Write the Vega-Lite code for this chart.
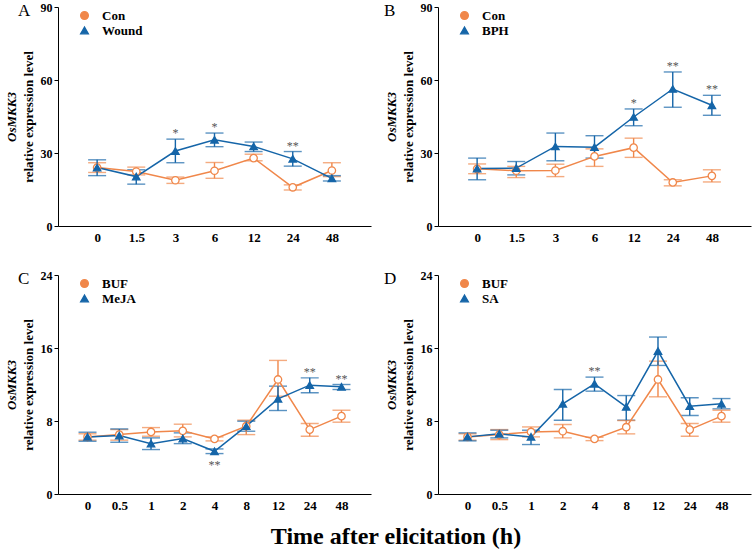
{
  "$schema": "https://vega.github.io/schema/vega-lite/v6.json",
  "padding": {"left": 5, "top": 1, "right": 2, "bottom": 5},
  "title": {"text": "Time after elicitation (h)", "orient": "bottom", "anchor": "middle", "fontSize": 24, "font": "Liberation Serif, Times New Roman, Times, serif", "fontWeight": "bold", "color": "black", "offset": 13, "dx": 18},
  "datasets": {
    "A": [
      {"t": "0", "g": "Con", "m": 24.0, "lo": 22.0, "hi": 26.0, "sig": ""},
      {"t": "1.5", "g": "Con", "m": 22.4, "lo": 21.0, "hi": 24.2, "sig": ""},
      {"t": "3", "g": "Con", "m": 18.8, "lo": 17.5, "hi": 20.1, "sig": ""},
      {"t": "6", "g": "Con", "m": 22.7, "lo": 19.6, "hi": 26.1, "sig": ""},
      {"t": "12", "g": "Con", "m": 27.9, "lo": 26.8, "hi": 29.5, "sig": ""},
      {"t": "24", "g": "Con", "m": 15.9, "lo": 14.8, "hi": 16.9, "sig": ""},
      {"t": "48", "g": "Con", "m": 22.8, "lo": 20.3, "hi": 26.0, "sig": ""},
      {"t": "0", "g": "Wound", "m": 24.0, "lo": 20.7, "hi": 27.2, "sig": ""},
      {"t": "1.5", "g": "Wound", "m": 20.3, "lo": 17.2, "hi": 23.1, "sig": ""},
      {"t": "3", "g": "Wound", "m": 30.8, "lo": 26.0, "hi": 35.7, "sig": "*"},
      {"t": "6", "g": "Wound", "m": 35.4, "lo": 32.6, "hi": 38.2, "sig": "*"},
      {"t": "12", "g": "Wound", "m": 32.7, "lo": 30.6, "hi": 34.5, "sig": ""},
      {"t": "24", "g": "Wound", "m": 27.6, "lo": 24.6, "hi": 30.6, "sig": "**"},
      {"t": "48", "g": "Wound", "m": 19.6, "lo": 18.5, "hi": 20.7, "sig": ""}
    ],
    "B": [
      {"t": "0", "g": "Con", "m": 23.5, "lo": 21.5, "hi": 25.5, "sig": ""},
      {"t": "1.5", "g": "Con", "m": 22.7, "lo": 19.9, "hi": 24.5, "sig": ""},
      {"t": "3", "g": "Con", "m": 22.8, "lo": 20.3, "hi": 25.4, "sig": ""},
      {"t": "6", "g": "Con", "m": 28.6, "lo": 24.5, "hi": 31.7, "sig": ""},
      {"t": "12", "g": "Con", "m": 32.2, "lo": 28.2, "hi": 36.1, "sig": ""},
      {"t": "24", "g": "Con", "m": 17.9, "lo": 16.5, "hi": 19.0, "sig": ""},
      {"t": "48", "g": "Con", "m": 20.6, "lo": 18.1, "hi": 23.1, "sig": ""},
      {"t": "0", "g": "BPH", "m": 23.6, "lo": 19.0, "hi": 27.9, "sig": ""},
      {"t": "1.5", "g": "BPH", "m": 23.8, "lo": 21.0, "hi": 26.5, "sig": ""},
      {"t": "3", "g": "BPH", "m": 32.7, "lo": 26.8, "hi": 38.2, "sig": ""},
      {"t": "6", "g": "BPH", "m": 32.4, "lo": 27.9, "hi": 37.1, "sig": ""},
      {"t": "12", "g": "BPH", "m": 44.8, "lo": 41.2, "hi": 48.1, "sig": "*"},
      {"t": "24", "g": "BPH", "m": 56.3, "lo": 48.8, "hi": 63.3, "sig": "**"},
      {"t": "48", "g": "BPH", "m": 49.6, "lo": 45.5, "hi": 53.7, "sig": "**"}
    ],
    "C": [
      {"t": "0", "g": "BUF", "m": 6.26, "lo": 5.9, "hi": 6.6, "sig": "", "sigb": ""},
      {"t": "0.5", "g": "BUF", "m": 6.51, "lo": 5.9, "hi": 7.06, "sig": "", "sigb": ""},
      {"t": "1", "g": "BUF", "m": 6.8, "lo": 6.33, "hi": 7.28, "sig": "", "sigb": ""},
      {"t": "2", "g": "BUF", "m": 6.92, "lo": 6.26, "hi": 7.65, "sig": "", "sigb": ""},
      {"t": "4", "g": "BUF", "m": 6.04, "lo": 5.82, "hi": 6.26, "sig": "", "sigb": ""},
      {"t": "8", "g": "BUF", "m": 7.43, "lo": 6.51, "hi": 8.09, "sig": "", "sigb": ""},
      {"t": "12", "g": "BUF", "m": 12.55, "lo": 10.72, "hi": 14.64, "sig": "", "sigb": ""},
      {"t": "24", "g": "BUF", "m": 7.06, "lo": 6.33, "hi": 7.72, "sig": "", "sigb": ""},
      {"t": "48", "g": "BUF", "m": 8.53, "lo": 7.87, "hi": 9.18, "sig": "", "sigb": ""},
      {"t": "0", "g": "MeJA", "m": 6.26, "lo": 5.78, "hi": 6.77, "sig": "", "sigb": ""},
      {"t": "0.5", "g": "MeJA", "m": 6.4, "lo": 5.67, "hi": 7.13, "sig": "", "sigb": ""},
      {"t": "1", "g": "MeJA", "m": 5.52, "lo": 4.87, "hi": 6.15, "sig": "", "sigb": ""},
      {"t": "2", "g": "MeJA", "m": 6.07, "lo": 5.52, "hi": 6.7, "sig": "", "sigb": ""},
      {"t": "4", "g": "MeJA", "m": 4.68, "lo": 4.43, "hi": 4.94, "sig": "", "sigb": "**"},
      {"t": "8", "g": "MeJA", "m": 7.43, "lo": 6.88, "hi": 7.98, "sig": "", "sigb": ""},
      {"t": "12", "g": "MeJA", "m": 10.43, "lo": 9.15, "hi": 11.82, "sig": "", "sigb": ""},
      {"t": "24", "g": "MeJA", "m": 11.93, "lo": 11.09, "hi": 12.73, "sig": "**", "sigb": ""},
      {"t": "48", "g": "MeJA", "m": 11.75, "lo": 11.45, "hi": 12.0, "sig": "**", "sigb": ""}
    ],
    "D": [
      {"t": "0", "g": "BUF", "m": 6.26, "lo": 5.9, "hi": 6.6, "sig": ""},
      {"t": "0.5", "g": "BUF", "m": 6.51, "lo": 5.96, "hi": 7.06, "sig": ""},
      {"t": "1", "g": "BUF", "m": 6.8, "lo": 6.26, "hi": 7.35, "sig": ""},
      {"t": "2", "g": "BUF", "m": 6.88, "lo": 6.15, "hi": 7.61, "sig": ""},
      {"t": "4", "g": "BUF", "m": 6.04, "lo": 5.85, "hi": 6.22, "sig": ""},
      {"t": "8", "g": "BUF", "m": 7.32, "lo": 6.59, "hi": 8.05, "sig": ""},
      {"t": "12", "g": "BUF", "m": 12.55, "lo": 10.65, "hi": 14.56, "sig": ""},
      {"t": "24", "g": "BUF", "m": 7.06, "lo": 6.33, "hi": 7.72, "sig": ""},
      {"t": "48", "g": "BUF", "m": 8.53, "lo": 7.87, "hi": 9.18, "sig": ""},
      {"t": "0", "g": "SA", "m": 6.26, "lo": 5.82, "hi": 6.7, "sig": ""},
      {"t": "0.5", "g": "SA", "m": 6.59, "lo": 6.15, "hi": 6.99, "sig": ""},
      {"t": "1", "g": "SA", "m": 6.26, "lo": 5.42, "hi": 6.99, "sig": ""},
      {"t": "2", "g": "SA", "m": 9.88, "lo": 8.09, "hi": 11.45, "sig": ""},
      {"t": "4", "g": "SA", "m": 12.07, "lo": 11.27, "hi": 12.81, "sig": "**"},
      {"t": "8", "g": "SA", "m": 9.55, "lo": 8.09, "hi": 10.79, "sig": ""},
      {"t": "12", "g": "SA", "m": 15.66, "lo": 14.09, "hi": 17.2, "sig": ""},
      {"t": "24", "g": "SA", "m": 9.62, "lo": 8.6, "hi": 10.54, "sig": ""},
      {"t": "48", "g": "SA", "m": 9.88, "lo": 9.33, "hi": 10.46, "sig": ""}
    ]
  },
  "columns": 2,
  "spacing": {"row": 25, "column": 13},
  "resolve": {"scale": {"x": "independent", "y": "independent", "color": "independent", "fill": "independent", "shape": "independent"}, "legend": {"color": "independent", "fill": "independent", "shape": "independent"}},
  "concat": [
    {
      "width": 313, "height": 219,
      "title": {"text": "A", "anchor": "start", "frame": "group", "align": "left", "offset": -19, "dx": -40, "fontSize": 17, "font": "Liberation Serif, Times New Roman, Times, serif", "fontWeight": "normal", "color": "black"},
      "data": {"name": "A"},
      "resolve": {"scale": {"y": "independent"}},
      "layer": [
        {
          "layer": [
            {"mark": {"type": "errorbar", "ticks": true, "thickness": 1.4},
             "encoding": {
               "x": {"field": "t", "type": "ordinal", "sort": ["0", "1.5", "3", "6", "12", "24", "48"], "scale": {"type": "point", "padding": 1}, "title": null},
               "y": {"field": "lo", "type": "quantitative", "scale": {"domain": [0, 90], "nice": false}, "title": "relative expression level", "axis": {"values": [0, 30, 60, 90]}},
               "y2": {"field": "hi"},
               "color": {"field": "g", "type": "nominal", "scale": {"domain": ["Con", "Wound"], "range": ["#F0874A", "#1565A8"]}, "legend": {"title": null, "orient": "none", "legendX": 20, "legendY": 2}}}},
            {"mark": {"type": "line", "strokeWidth": 1.5},
             "encoding": {
               "x": {"field": "t", "type": "ordinal", "sort": ["0", "1.5", "3", "6", "12", "24", "48"], "title": null},
               "y": {"field": "m", "type": "quantitative", "title": "relative expression level", "axis": {"values": [0, 30, 60, 90]}},
               "color": {"field": "g", "type": "nominal", "scale": {"domain": ["Con", "Wound"], "range": ["#F0874A", "#1565A8"]}, "legend": {"title": null, "orient": "none", "legendX": 20, "legendY": 2}}}},
            {"mark": {"type": "point", "filled": false, "size": 55, "opacity": 1, "strokeWidth": 1.3},
             "encoding": {
               "x": {"field": "t", "type": "ordinal", "sort": ["0", "1.5", "3", "6", "12", "24", "48"], "title": null},
               "y": {"field": "m", "type": "quantitative", "title": "relative expression level", "axis": {"values": [0, 30, 60, 90]}},
               "color": {"field": "g", "type": "nominal", "scale": {"domain": ["Con", "Wound"], "range": ["#F0874A", "#1565A8"]}, "legend": {"title": null, "orient": "none", "legendX": 20, "legendY": 2}},
               "shape": {"field": "g", "type": "nominal", "scale": {"domain": ["Con", "Wound"], "range": ["circle", "triangle-up"]}, "legend": {"title": null, "orient": "none", "legendX": 20, "legendY": 2}},
               "fill": {"field": "g", "type": "nominal", "scale": {"domain": ["Con", "Wound"], "range": ["white", "#1565A8"]}, "legend": {"title": null, "orient": "none", "legendX": 20, "legendY": 2}}}}
          ]
        },
        {"mark": {"type": "text", "dy": -6, "color": "#555555", "fontSize": 12, "font": "Liberation Serif, Times New Roman, Times, serif", "baseline": "middle"},
         "encoding": {
           "x": {"field": "t", "type": "ordinal", "sort": ["0", "1.5", "3", "6", "12", "24", "48"], "title": null},
           "y": {"field": "hi", "type": "quantitative", "scale": {"domain": [0, 90], "nice": false}, "title": "OsMKK3", "axis": {"orient": "left", "labels": false, "ticks": false, "domain": false, "titleFontStyle": "italic", "titlePadding": 40}},
           "text": {"field": "sig"}}}
      ]
    },
    {
      "width": 313, "height": 219,
      "title": {"text": "B", "anchor": "start", "frame": "group", "align": "left", "offset": -19, "dx": -54, "fontSize": 17, "font": "Liberation Serif, Times New Roman, Times, serif", "fontWeight": "normal", "color": "black"},
      "data": {"name": "B"},
      "resolve": {"scale": {"y": "independent"}},
      "layer": [
        {
          "layer": [
            {"mark": {"type": "errorbar", "ticks": true, "thickness": 1.4},
             "encoding": {
               "x": {"field": "t", "type": "ordinal", "sort": ["0", "1.5", "3", "6", "12", "24", "48"], "scale": {"type": "point", "padding": 1}, "title": null},
               "y": {"field": "lo", "type": "quantitative", "scale": {"domain": [0, 90], "nice": false}, "title": "relative expression level", "axis": {"values": [0, 30, 60, 90]}},
               "y2": {"field": "hi"},
               "color": {"field": "g", "type": "nominal", "scale": {"domain": ["Con", "BPH"], "range": ["#F0874A", "#1565A8"]}, "legend": {"title": null, "orient": "none", "legendX": 20, "legendY": 2}}}},
            {"mark": {"type": "line", "strokeWidth": 1.5},
             "encoding": {
               "x": {"field": "t", "type": "ordinal", "sort": ["0", "1.5", "3", "6", "12", "24", "48"], "title": null},
               "y": {"field": "m", "type": "quantitative", "title": "relative expression level", "axis": {"values": [0, 30, 60, 90]}},
               "color": {"field": "g", "type": "nominal", "scale": {"domain": ["Con", "BPH"], "range": ["#F0874A", "#1565A8"]}, "legend": {"title": null, "orient": "none", "legendX": 20, "legendY": 2}}}},
            {"mark": {"type": "point", "filled": false, "size": 55, "opacity": 1, "strokeWidth": 1.3},
             "encoding": {
               "x": {"field": "t", "type": "ordinal", "sort": ["0", "1.5", "3", "6", "12", "24", "48"], "title": null},
               "y": {"field": "m", "type": "quantitative", "title": "relative expression level", "axis": {"values": [0, 30, 60, 90]}},
               "color": {"field": "g", "type": "nominal", "scale": {"domain": ["Con", "BPH"], "range": ["#F0874A", "#1565A8"]}, "legend": {"title": null, "orient": "none", "legendX": 20, "legendY": 2}},
               "shape": {"field": "g", "type": "nominal", "scale": {"domain": ["Con", "BPH"], "range": ["circle", "triangle-up"]}, "legend": {"title": null, "orient": "none", "legendX": 20, "legendY": 2}},
               "fill": {"field": "g", "type": "nominal", "scale": {"domain": ["Con", "BPH"], "range": ["white", "#1565A8"]}, "legend": {"title": null, "orient": "none", "legendX": 20, "legendY": 2}}}}
          ]
        },
        {"mark": {"type": "text", "dy": -6, "color": "#555555", "fontSize": 12, "font": "Liberation Serif, Times New Roman, Times, serif", "baseline": "middle"},
         "encoding": {
           "x": {"field": "t", "type": "ordinal", "sort": ["0", "1.5", "3", "6", "12", "24", "48"], "title": null},
           "y": {"field": "hi", "type": "quantitative", "scale": {"domain": [0, 90], "nice": false}, "title": "OsMKK3", "axis": {"orient": "left", "labels": false, "ticks": false, "domain": false, "titleFontStyle": "italic", "titlePadding": 40}},
           "text": {"field": "sig"}}}
      ]
    },
    {
      "width": 313, "height": 219,
      "title": {"text": "C", "anchor": "start", "frame": "group", "align": "left", "offset": -19, "dx": -40, "fontSize": 17, "font": "Liberation Serif, Times New Roman, Times, serif", "fontWeight": "normal", "color": "black"},
      "data": {"name": "C"},
      "resolve": {"scale": {"y": "independent"}},
      "layer": [
        {
          "layer": [
            {"mark": {"type": "errorbar", "ticks": true, "thickness": 1.4},
             "encoding": {
               "x": {"field": "t", "type": "ordinal", "sort": ["0", "0.5", "1", "2", "4", "8", "12", "24", "48"], "scale": {"type": "point", "padding": 0.93}, "title": null},
               "y": {"field": "lo", "type": "quantitative", "scale": {"domain": [0, 24], "nice": false}, "title": "relative expression level", "axis": {"values": [0, 8, 16, 24]}},
               "y2": {"field": "hi"},
               "color": {"field": "g", "type": "nominal", "scale": {"domain": ["BUF", "MeJA"], "range": ["#F0874A", "#1565A8"]}, "legend": {"title": null, "orient": "none", "legendX": 20, "legendY": 2}}}},
            {"mark": {"type": "line", "strokeWidth": 1.5},
             "encoding": {
               "x": {"field": "t", "type": "ordinal", "sort": ["0", "0.5", "1", "2", "4", "8", "12", "24", "48"], "title": null},
               "y": {"field": "m", "type": "quantitative", "title": "relative expression level", "axis": {"values": [0, 8, 16, 24]}},
               "color": {"field": "g", "type": "nominal", "scale": {"domain": ["BUF", "MeJA"], "range": ["#F0874A", "#1565A8"]}, "legend": {"title": null, "orient": "none", "legendX": 20, "legendY": 2}}}},
            {"mark": {"type": "point", "filled": false, "size": 55, "opacity": 1, "strokeWidth": 1.3},
             "encoding": {
               "x": {"field": "t", "type": "ordinal", "sort": ["0", "0.5", "1", "2", "4", "8", "12", "24", "48"], "title": null},
               "y": {"field": "m", "type": "quantitative", "title": "relative expression level", "axis": {"values": [0, 8, 16, 24]}},
               "color": {"field": "g", "type": "nominal", "scale": {"domain": ["BUF", "MeJA"], "range": ["#F0874A", "#1565A8"]}, "legend": {"title": null, "orient": "none", "legendX": 20, "legendY": 2}},
               "shape": {"field": "g", "type": "nominal", "scale": {"domain": ["BUF", "MeJA"], "range": ["circle", "triangle-up"]}, "legend": {"title": null, "orient": "none", "legendX": 20, "legendY": 2}},
               "fill": {"field": "g", "type": "nominal", "scale": {"domain": ["BUF", "MeJA"], "range": ["white", "#1565A8"]}, "legend": {"title": null, "orient": "none", "legendX": 20, "legendY": 2}}}},
            {"mark": {"type": "text", "dy": 11, "color": "#555555", "fontSize": 12, "font": "Liberation Serif, Times New Roman, Times, serif", "baseline": "middle"},
             "encoding": {
               "x": {"field": "t", "type": "ordinal", "sort": ["0", "0.5", "1", "2", "4", "8", "12", "24", "48"], "title": null},
               "y": {"field": "lo", "type": "quantitative", "title": "relative expression level", "axis": {"values": [0, 8, 16, 24]}},
               "text": {"field": "sigb"}}}
          ]
        },
        {"mark": {"type": "text", "dy": -6, "color": "#555555", "fontSize": 12, "font": "Liberation Serif, Times New Roman, Times, serif", "baseline": "middle"},
         "encoding": {
           "x": {"field": "t", "type": "ordinal", "sort": ["0", "0.5", "1", "2", "4", "8", "12", "24", "48"], "title": null},
           "y": {"field": "hi", "type": "quantitative", "scale": {"domain": [0, 24], "nice": false}, "title": "OsMKK3", "axis": {"orient": "left", "labels": false, "ticks": false, "domain": false, "titleFontStyle": "italic", "titlePadding": 40}},
           "text": {"field": "sig"}}}
      ]
    },
    {
      "width": 313, "height": 219,
      "title": {"text": "D", "anchor": "start", "frame": "group", "align": "left", "offset": -19, "dx": -54, "fontSize": 17, "font": "Liberation Serif, Times New Roman, Times, serif", "fontWeight": "normal", "color": "black"},
      "data": {"name": "D"},
      "resolve": {"scale": {"y": "independent"}},
      "layer": [
        {
          "layer": [
            {"mark": {"type": "errorbar", "ticks": true, "thickness": 1.4},
             "encoding": {
               "x": {"field": "t", "type": "ordinal", "sort": ["0", "0.5", "1", "2", "4", "8", "12", "24", "48"], "scale": {"type": "point", "padding": 0.93}, "title": null},
               "y": {"field": "lo", "type": "quantitative", "scale": {"domain": [0, 24], "nice": false}, "title": "relative expression level", "axis": {"values": [0, 8, 16, 24]}},
               "y2": {"field": "hi"},
               "color": {"field": "g", "type": "nominal", "scale": {"domain": ["BUF", "SA"], "range": ["#F0874A", "#1565A8"]}, "legend": {"title": null, "orient": "none", "legendX": 20, "legendY": 2}}}},
            {"mark": {"type": "line", "strokeWidth": 1.5},
             "encoding": {
               "x": {"field": "t", "type": "ordinal", "sort": ["0", "0.5", "1", "2", "4", "8", "12", "24", "48"], "title": null},
               "y": {"field": "m", "type": "quantitative", "title": "relative expression level", "axis": {"values": [0, 8, 16, 24]}},
               "color": {"field": "g", "type": "nominal", "scale": {"domain": ["BUF", "SA"], "range": ["#F0874A", "#1565A8"]}, "legend": {"title": null, "orient": "none", "legendX": 20, "legendY": 2}}}},
            {"mark": {"type": "point", "filled": false, "size": 55, "opacity": 1, "strokeWidth": 1.3},
             "encoding": {
               "x": {"field": "t", "type": "ordinal", "sort": ["0", "0.5", "1", "2", "4", "8", "12", "24", "48"], "title": null},
               "y": {"field": "m", "type": "quantitative", "title": "relative expression level", "axis": {"values": [0, 8, 16, 24]}},
               "color": {"field": "g", "type": "nominal", "scale": {"domain": ["BUF", "SA"], "range": ["#F0874A", "#1565A8"]}, "legend": {"title": null, "orient": "none", "legendX": 20, "legendY": 2}},
               "shape": {"field": "g", "type": "nominal", "scale": {"domain": ["BUF", "SA"], "range": ["circle", "triangle-up"]}, "legend": {"title": null, "orient": "none", "legendX": 20, "legendY": 2}},
               "fill": {"field": "g", "type": "nominal", "scale": {"domain": ["BUF", "SA"], "range": ["white", "#1565A8"]}, "legend": {"title": null, "orient": "none", "legendX": 20, "legendY": 2}}}}
          ]
        },
        {"mark": {"type": "text", "dy": -6, "color": "#555555", "fontSize": 12, "font": "Liberation Serif, Times New Roman, Times, serif", "baseline": "middle"},
         "encoding": {
           "x": {"field": "t", "type": "ordinal", "sort": ["0", "0.5", "1", "2", "4", "8", "12", "24", "48"], "title": null},
           "y": {"field": "hi", "type": "quantitative", "scale": {"domain": [0, 24], "nice": false}, "title": "OsMKK3", "axis": {"orient": "left", "labels": false, "ticks": false, "domain": false, "titleFontStyle": "italic", "titlePadding": 40}},
           "text": {"field": "sig"}}}
      ]
    }
  ],
  "config": {
    "view": {"stroke": null},
    "font": "Liberation Serif, Times New Roman, Times, serif",
    "axis": {"labelFont": "Liberation Serif, Times New Roman, Times, serif", "labelFontWeight": "bold", "labelFontSize": 12, "labelColor": "black", "domainColor": "black", "tickColor": "black", "titleFont": "Liberation Serif, Times New Roman, Times, serif", "titleFontWeight": "bold", "titleFontSize": 13, "titleColor": "black", "grid": false},
    "axisX": {"ticks": false, "labelPadding": 5, "labelFontSize": 13, "labelAngle": 0},
    "axisY": {"tickSize": 4, "labelPadding": 2, "titlePadding": 5},
    "legend": {"labelFont": "Liberation Serif, Times New Roman, Times, serif", "labelFontWeight": "bold", "labelFontSize": 13, "labelColor": "black", "symbolSize": 60, "symbolStrokeWidth": 1.3, "symbolOpacity": 1, "labelOffset": 11, "rowPadding": 1, "padding": 0}
  }
}
